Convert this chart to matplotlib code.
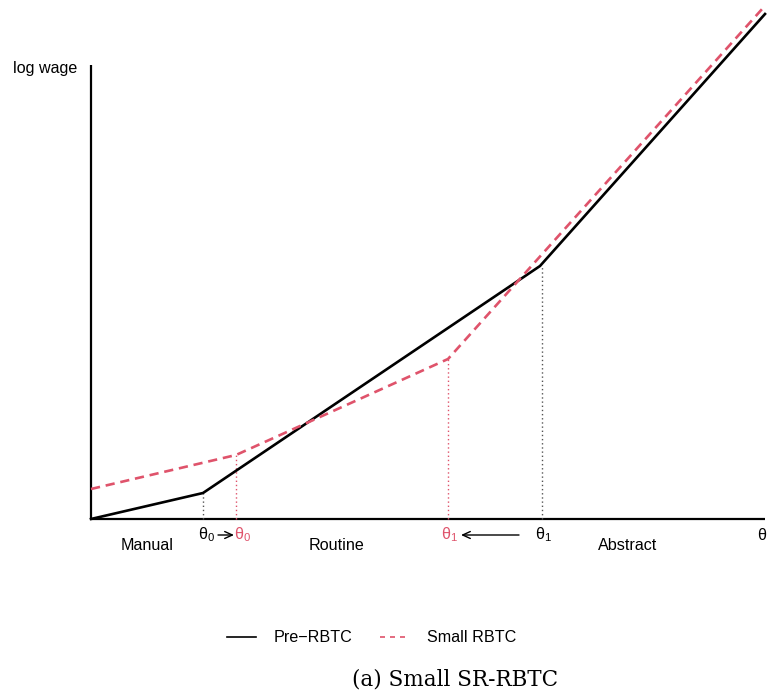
import matplotlib.pyplot as plt
from matplotlib.lines import Line2D

plt.rcParams["font.family"] = ["Liberation Sans", "DejaVu Sans"]
plt.rcParams["mathtext.fontset"] = "custom"
plt.rcParams["mathtext.rm"] = "Liberation Sans"

# piecewise log wage schedules (x = theta, y = log wage)
pre_theta = [0, 112, 449, 674]
pre_wage = [0, 26, 253, 505]
small_theta = [0, 145, 357, 672]
small_wage = [30, 64, 160, 511]

# thresholds: (theta, wage at kink)
pre_kinks = [(112, 26), (451, 253)]
small_kinks = [(145, 64), (357, 160)]

black = "black"
pink = "#DF536B"

fig = plt.figure(figsize=(7.68, 7.0), dpi=100)
ax = fig.add_axes([0, 0, 1, 1])
ax.set_xlim(-91, 677)
ax.set_ylim(-181, 519)
ax.axis("off")

# axes of the diagram
ax.plot([0, 674], [0, 0], color=black, lw=1.6, solid_capstyle="butt")
ax.plot([0, 0], [0, 454], color=black, lw=1.6, solid_capstyle="butt")

# dotted guide lines
for t, w in pre_kinks:
    ax.plot([t, t], [0, w], color="#555555", lw=1.0, ls=(0, (1, 2)))
for t, w in small_kinks:
    ax.plot([t, t], [0, w], color=pink, lw=1.0, ls=(0, (1, 2)))

ax.plot(pre_theta, pre_wage, color=black, lw=1.9)
ax.plot(small_theta, small_wage, color=pink, lw=1.9, ls=(0, (3.5, 2.2)))

fs = 11.6
ax.text(-46, 451, "log wage", fontsize=fs, ha="center", va="center")
ax.text(56, -27, "Manual", fontsize=fs, ha="center", va="center")
ax.text(246, -27, "Routine", fontsize=fs, ha="center", va="center")
ax.text(537, -27, "Abstract", fontsize=fs, ha="center", va="center")
ax.text(671, -16, "\u03b8", fontsize=fs, ha="center", va="center")

arrow = dict(arrowstyle="->,head_length=0.55,head_width=0.25", color=black, lw=1.0,
             shrinkA=0, shrinkB=0)
ax.text(116, -16, r"$\mathregular{\theta_0}$", fontsize=fs, ha="center", va="center")
ax.annotate("", xy=(143, -16), xytext=(127, -16), arrowprops=arrow)
ax.text(152, -16, r"$\mathregular{\theta_0}$", fontsize=fs, ha="center", va="center", color=pink)

ax.text(358, -16, r"$\mathregular{\theta_1}$", fontsize=fs, ha="center", va="center", color=pink)
ax.annotate("", xy=(370, -16), xytext=(428, -16), arrowprops=arrow)
ax.text(452, -16, r"$\mathregular{\theta_1}$", fontsize=fs, ha="center", va="center")

handles = [Line2D([], [], color=black, lw=1.2),
           Line2D([], [], color=pink, lw=1.2, ls=(0, (3, 3)))]
ax.legend(handles, ["Pre\u2212RBTC", "Small RBTC"], loc="center",
          bbox_to_anchor=(0.484, 0.089), ncol=2, frameon=False,
          fontsize=fs, handlelength=1.8, columnspacing=1.7, handletextpad=1.1)

fig.text(0.592, 0.029, "(a) Small SR-RBTC", fontsize=15.5, ha="center", va="center",
         family="DejaVu Serif")

fig.savefig("out.png", dpi=100)
